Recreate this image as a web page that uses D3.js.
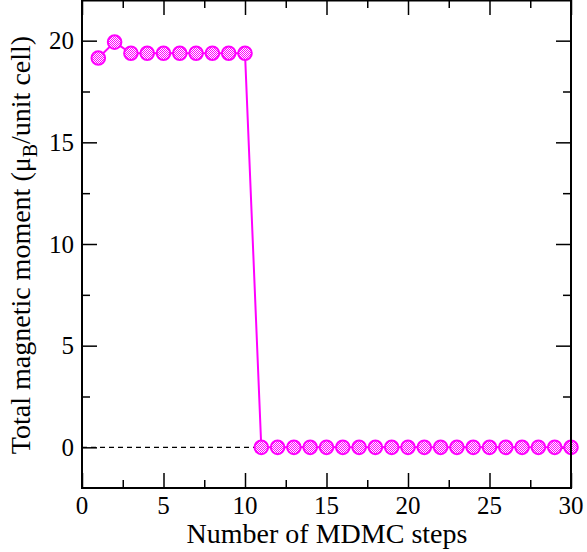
<html>
<head>
<script src="https://d3js.org/d3.v7.min.js"></script>
<style>
  body { margin: 0; background: #fff; }
</style>
</head>
<body>
<script>
// data
var steps = d3.range(1, 31);
var moment = [19.15, 19.93, 19.38, 19.38, 19.38, 19.38, 19.38, 19.38, 19.38, 19.38,
              0, 0, 0, 0, 0, 0, 0, 0, 0, 0,
              0, 0, 0, 0, 0, 0, 0, 0, 0, 0];
var xTicks = [0, 5, 10, 15, 20, 25, 30];
var yTicks = [0, 5, 10, 15, 20];

var W = 587, H = 552;
var pL = 82, pR = 571, pT = 0, pB = 488;
var FONT = "'Liberation Serif', 'DejaVu Serif', serif";

var svg = d3.select("body").append("svg").attr("width", W).attr("height", H)
  .attr("font-family", FONT);

var x = d3.scaleLinear().domain([0, 30]).range([pL, pR]);
var y = d3.scaleLinear().domain([-2, 22]).range([pB, pT]);

// hatched fill for the markers
var pat = svg.append("defs").append("pattern")
  .attr("id", "dots").attr("width", 2).attr("height", 2)
  .attr("patternUnits", "userSpaceOnUse");
pat.append("rect").attr("width", 2).attr("height", 2).attr("fill", "#ffffff");
pat.append("rect").attr("width", 1).attr("height", 1).attr("fill", "#ff00ff");
pat.append("rect").attr("x", 1).attr("y", 1).attr("width", 1).attr("height", 1).attr("fill", "#ff00ff");

// ticks on all four sides, pointing inward
var minorX = d3.range(0, 30.01, 2.5), minorY = d3.range(0, 22.01, 2.5);
function tickLen(v) { return v % 5 === 0 ? 15 : 8; }

svg.append("g").call(d3.axisBottom(x).tickValues(minorX).tickSize(0).tickFormat(""))
  .attr("transform", "translate(0," + pB + ")")
  .call(g => g.select(".domain").remove())
  .selectAll(".tick line").attr("y2", d => -tickLen(d)).attr("stroke-width", 1.5);
svg.append("g").call(d3.axisTop(x).tickValues(minorX).tickSize(0).tickFormat(""))
  .attr("transform", "translate(0," + pT + ")")
  .call(g => g.select(".domain").remove())
  .selectAll(".tick line").attr("y2", d => tickLen(d)).attr("stroke-width", 1.5);
svg.append("g").call(d3.axisLeft(y).tickValues(minorY).tickSize(0).tickFormat(""))
  .attr("transform", "translate(" + pL + ",0)")
  .call(g => g.select(".domain").remove())
  .selectAll(".tick line").attr("x2", d => tickLen(d)).attr("stroke-width", 1.5);
svg.append("g").call(d3.axisRight(y).tickValues(minorY).tickSize(0).tickFormat(""))
  .attr("transform", "translate(" + pR + ",0)")
  .call(g => g.select(".domain").remove())
  .selectAll(".tick line").attr("x2", d => -tickLen(d)).attr("stroke-width", 1.5);

// tick labels
svg.selectAll(".xl").data(xTicks).enter().append("text")
  .attr("x", d => x(d)).attr("y", pB + 26)
  .attr("text-anchor", "middle").attr("font-size", 25).attr("font-family", FONT)
  .text(d => d);
svg.selectAll(".yl").data(yTicks).enter().append("text")
  .attr("x", pL - 8).attr("y", d => y(d) + 8.5)
  .attr("text-anchor", "end").attr("font-size", 25).attr("font-family", FONT)
  .text(d => d);

// zero reference line
svg.append("line")
  .attr("x1", x(0)).attr("x2", x(30)).attr("y1", y(0)).attr("y2", y(0))
  .attr("stroke", "#000").attr("stroke-width", 1.3).attr("stroke-dasharray", "5,4");

// series
var pts = steps.map((s, i) => [s, moment[i]]);
svg.append("path").datum(pts)
  .attr("fill", "none").attr("stroke", "#ff00ff").attr("stroke-width", 2)
  .attr("d", d3.line().x(d => x(d[0])).y(d => y(d[1])));
svg.selectAll(".pt").data(pts).enter().append("circle")
  .attr("cx", d => x(d[0])).attr("cy", d => y(d[1])).attr("r", 6.8)
  .attr("fill", "url(#dots)").attr("stroke", "#ff00ff").attr("stroke-width", 2);

// frame
svg.append("rect")
  .attr("x", pL).attr("y", pT + 0.5).attr("width", pR - pL).attr("height", pB - pT - 0.5)
  .attr("fill", "none").attr("stroke", "#000").attr("stroke-width", 2);

// axis titles
svg.append("text")
  .attr("x", 327).attr("y", 543)
  .attr("text-anchor", "middle").attr("font-size", 28).attr("font-family", FONT)
  .text("Number of MDMC steps");
var yt = svg.append("text")
  .attr("transform", "translate(30,245) rotate(-90)")
  .attr("text-anchor", "middle").attr("font-size", 28).attr("font-family", FONT);
yt.append("tspan").text("Total magnetic moment (\u03bc");
yt.append("tspan").attr("font-size", 20).attr("dy", 7).text("B");
yt.append("tspan").attr("dy", -7).text("/unit cell)");
</script>
</body>
</html>
